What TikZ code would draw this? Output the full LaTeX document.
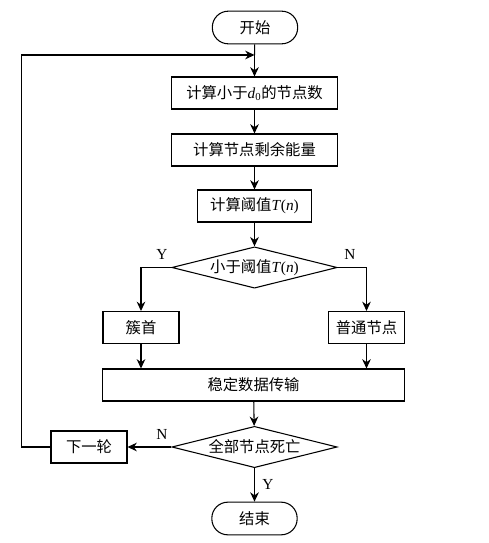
\documentclass[tikz,border=0pt]{standalone}
\usepackage{fontspec}
\setmainfont{Liberation Serif}
\newfontfamily\cjk{Noto Sans CJK SC}
\newcommand\lat[1]{{\rmfamily #1}}
\usetikzlibrary{shapes.geometric,arrows.meta}
\tikzset{ p/.style = { rectangle % process box
        , draw
        , line width = 0.8pt
        , inner sep = 0pt
        , minimum height = 24pt
        , font = \cjk\fontsize{11.5}{14}\selectfont
        }
        , t/.style = { rectangle % start / end
        , draw
        , line width = 0.8pt
        , rounded corners = 12pt
        , inner sep = 0pt
        , minimum width = 64pt
        , minimum height = 24.5pt
        , font = \cjk\fontsize{11.5}{14}\selectfont
        }
        , q/.style = { diamond % decision
        , draw
        , line width = 0.8pt
        , aspect = 4
        , inner sep = 0pt
        , minimum width = 124pt
        , minimum height = 31pt
        , font = \cjk\fontsize{11.5}{14}\selectfont
        }
        , yn/.style = { rectangle % branch mark
        , inner sep = 0pt
        , font = \fontsize{11.5}{14}\selectfont
        }
        }

\begin{document}
\begin{tikzpicture}[x=0.75pt, y=-0.75pt,
        edge_style/.style={draw=black, line width=0.8pt, -{Stealth[length=7pt,width=6.5pt]}},
        line_style/.style={draw=black, line width=0.8pt}]
        \useasboundingbox (0,0) rectangle (489,543);

        \node [t] (n0) at (255,27.5) {开始};
        \node [p,minimum width=125pt] (n1) at (254.5,93) {计算小于\lat{\textit{d}\textsubscript{0}}的节点数};
        \node [p,minimum width=125pt] (n2) at (254.5,150) {计算节点剩余能量};
        \node [p,minimum width=85pt] (n3) at (254.5,206) {计算阈值\lat{\textit{T}(\textit{n})}};
        \node [q] (n4) at (254.5,267.5) {小于阈值\lat{\textit{T}(\textit{n})}};
        \node [p,minimum width=57pt] (n5) at (141,327.5) {簇首};
        \node [p,minimum width=57pt] (n6) at (366.5,327.5) {普通节点};
        \node [p,minimum width=226pt] (n7) at (253.5,385) {稳定数据传输};
        \node [q] (n8) at (254.5,447) {全部节点死亡};
        \node [p,minimum width=57pt] (n9) at (89,447) {下一轮};
        \node [t] (n10) at (254.5,518.5) {结束};

        \node [yn] (y1) at (162,254) {Y};
        \node [yn] (no1) at (350,254) {N};
        \node [yn] (no2) at (162,434) {N};
        \node [yn] (y2) at (268,484) {Y};

        \coordinate (j1) at (254.5,55);

        \draw [line_style] (n0) -- (j1);
        \draw [edge_style] (j1) -- (n1);
        \draw [edge_style] (n1) -- (n2);
        \draw [edge_style] (n2) -- (n3);
        \draw [edge_style] (n3) -- (n4);
        \draw [edge_style] (n4.west) -| (n5.north);
        \draw [edge_style] (n4.east) -| (n6.north);
        \draw [edge_style] (n5.south) -- (n5.south |- n7.north);
        \draw [edge_style] (n6.south) -- (n6.south |- n7.north);
        \draw [edge_style] (n7) -- (n8);
        \draw [edge_style] (n8.west) -- (n9.east);
        \draw [edge_style] (n8.south) -- (n10.north);
        \draw [edge_style] (n9.west) -- ++(-29,0) |- (j1);

\end{tikzpicture}
\end{document}
